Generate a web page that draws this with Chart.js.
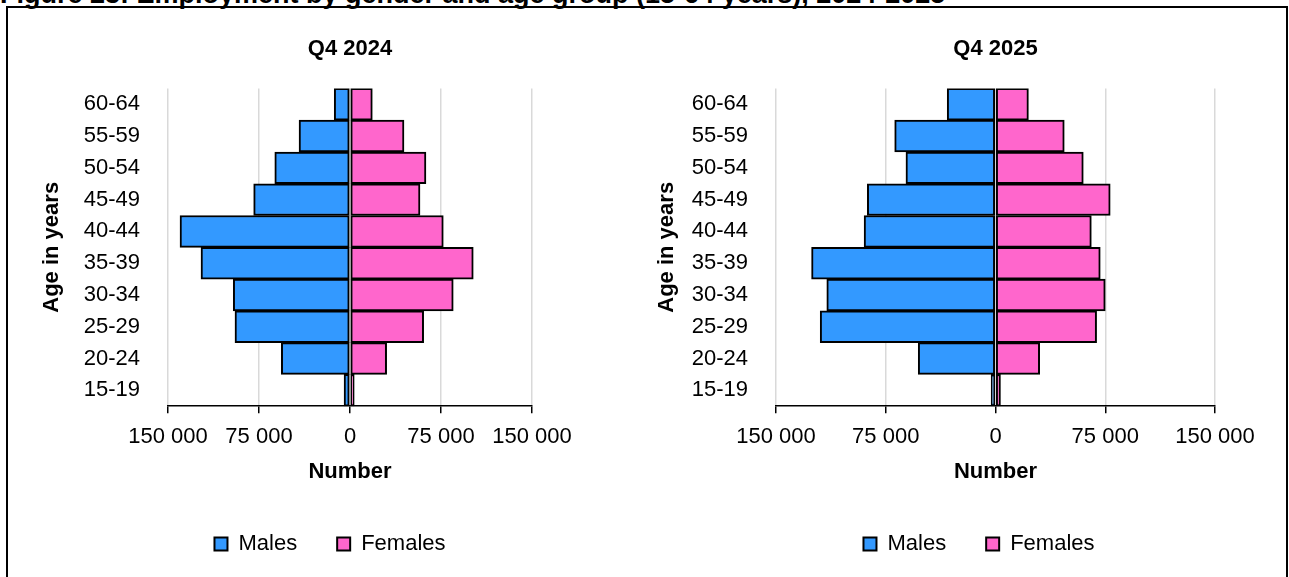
<!DOCTYPE html>
<html>
<head>
<meta charset="utf-8">
<script src="https://cdn.jsdelivr.net/npm/chart.js@4.4.0/dist/chart.umd.min.js"></script>
<style>
  html, body { margin: 0; padding: 0; width: 1289px; height: 577px; overflow: hidden; background: #fff; }
  #frame { position: absolute; left: 6px; top: 6px; width: 1282px; height: 620px; border: 2px solid #000; box-sizing: border-box; }
  #fig-title { position: absolute; left: 0; top: -19px; font: bold 27px "Liberation Sans", Arial, sans-serif; line-height: 27px; white-space: nowrap; color: #000; }
  canvas { position: absolute; top: 0; }
  #chart-2024 { left: 8px; }
  #chart-2025 { left: 648px; }
</style>
</head>
<body>
<div id="frame"></div>
<div id="fig-title">Figure 23: Employment by gender and age group (15-64 years), 2024-2025</div>
<canvas id="chart-2024" width="644" height="577"></canvas>
<canvas id="chart-2025" width="662" height="577"></canvas>
<script>
// Data (employed persons)
const ageGroups = ['15-19', '20-24', '25-29', '30-34', '35-39', '40-44', '45-49', '50-54', '55-59', '60-64'];
const males2024   = [4900, 56600, 94800, 96200, 122800, 140100, 79400, 62000, 42000, 13000];
const females2024 = [3500, 30200, 60700, 85100, 101600, 76900, 57700, 62600, 44500, 18400];
const males2025   = [3000, 52800, 119800, 115300, 125700, 89800, 87600, 61200, 68900, 33000];
const females2025 = [3400, 30200, 69100, 75000, 71600, 65500, 78400, 60000, 47000, 22500];
const tickValues = [-150000, -75000, 0, 75000, 150000];
const tickLabels = ['150 000', '75 000', '0', '75 000', '150 000'];

Chart.defaults.font.family = '"Liberation Sans", Arial, sans-serif';
Chart.defaults.color = '#000';

function makePyramid(id, title, males, females, yWidth, yTitlePad, rightGap) {
    const ctx = document.getElementById(id).getContext('2d');
    return new Chart(ctx, {
        type: 'bar',
        data: {
            labels: ageGroups,
            datasets: [{
                label: 'Males',
                data: males.map(v => -v),
                backgroundColor: '#3399ff',
                borderColor: '#000',
                borderWidth: 2,
                borderSkipped: false,
                barPercentage: 1,
                categoryPercentage: 1
            }, {
                label: 'Females',
                data: females,
                backgroundColor: '#ff66cc',
                borderColor: '#000',
                borderWidth: 2,
                borderSkipped: false,
                barPercentage: 1,
                categoryPercentage: 1
            }]
        },
        options: {
            indexAxis: 'y',
            responsive: false,
            animation: false,
            layout: { padding: { left: 0, right: 0, top: 0, bottom: 12 } },
            scales: {
                x: {
                    stacked: true,
                    min: -150000,
                    max: 150000,
                    afterBuildTicks: s => { s.ticks = tickValues.map(v => ({ value: v })); },
                    ticks: {
                        font: { size: 22 }, color: '#000', padding: 11,
                        maxRotation: 0, autoSkip: false,
                        callback: (v, i) => tickLabels[i]
                    },
                    grid: { color: '#d9d9d9', lineWidth: 1.5, tickColor: '#000', tickWidth: 1.5, tickLength: 7 },
                    border: { display: true, color: '#000', width: 1.5 },
                    title: {
                        display: true, text: 'Number', color: '#000',
                        font: { size: 22, weight: 'bold' },
                        padding: { top: -3, bottom: 8 }
                    }
                },
                y: {
                    stacked: true,
                    reverse: true,
                    afterFit: s => { s.width = yWidth; },
                    ticks: { font: { size: 22 }, color: '#000', padding: 28 },
                    grid: { display: false, drawTicks: false },
                    border: { display: false },
                    title: {
                        display: true, text: 'Age in years', color: '#000',
                        font: { size: 22, weight: 'bold' },
                        padding: { top: yTitlePad, bottom: 0 }
                    }
                },
                // empty axis on the right, only to leave room beside the plot
                gap: {
                    axis: 'y',
                    type: 'linear',
                    position: 'right',
                    afterFit: s => { s.width = rightGap; },
                    ticks: { display: false },
                    grid: { display: false, drawTicks: false },
                    border: { display: false }
                }
            },
            plugins: {
                title: {
                    display: true, text: title, fullSize: false, color: '#000',
                    font: { size: 22, weight: 'bold' },
                    padding: { top: 36, bottom: 26 }
                },
                legend: {
                    position: 'bottom',
                    labels: { boxWidth: 13, boxHeight: 13, padding: 40, font: { size: 22 }, color: '#000' }
                },
                tooltip: { enabled: false }
            }
        }
    });
}

makePyramid('chart-2024', 'Q4 2024', males2024, females2024, 160, 31, 120);
makePyramid('chart-2025', 'Q4 2025', males2025, females2025, 128, 5.5, 95);
</script>
</body>
</html>
